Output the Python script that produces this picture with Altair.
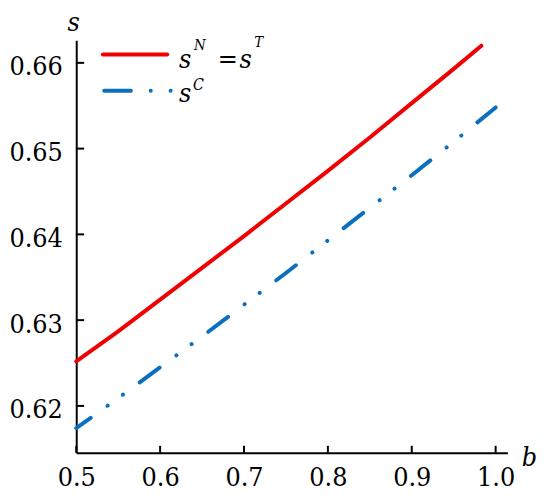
import altair as alt
import pandas as pd

# ---- data ----
b_red = [0.50, 0.55, 0.60, 0.65, 0.70, 0.75, 0.80, 0.85, 0.90, 0.95, 0.983]
s_red = [0.6252, 0.6287, 0.6324, 0.6361, 0.6398, 0.6436, 0.6474, 0.6513, 0.6553, 0.6593, 0.6620]
b_blue = [0.50, 0.55, 0.60, 0.65, 0.70, 0.75, 0.80, 0.85, 0.90, 0.95, 1.00]
s_blue = [0.6174, 0.6209, 0.6245, 0.6281, 0.6318, 0.6355, 0.6393, 0.6431, 0.6469, 0.6508, 0.6548]
x_ticks = [0.5, 0.6, 0.7, 0.8, 0.9, 1.0]
y_ticks = [0.62, 0.63, 0.64, 0.65, 0.66]
x_title = "b"
y_title = "s"
legend_red = ["s", "N", "=", "s", "T"]
legend_blue = ["s", "C"]

W, H = 436, 417
RED = "#f00000"
BLUE = "#0b6fbf"
FONT = "'DejaVu Serif Condensed', 'DejaVu Serif'"
FS = 27

xs = alt.Scale(domain=[0.5, 1.014], nice=False, zero=False)
ys = alt.Scale(domain=[0.61454, 0.66262], nice=False, zero=False)

red_df = pd.DataFrame({"b": b_red, "s": s_red})
blue_df = pd.DataFrame({"b": b_blue, "s": s_blue})

x_axis = alt.Axis(
    values=x_ticks, format=".1f", title=x_title, ticks=False, tickSize=0,
    grid=False, labelFlush=False, labelBaseline="alphabetic", labelPadding=33,
    titleX=450, titleY=13, titleAlign="left", titleBaseline="alphabetic",
    titleFontStyle="italic", titleFontWeight="normal",
)
y_axis = alt.Axis(
    values=y_ticks, format=".2f", title=y_title, ticks=False, tickSize=0,
    grid=False, labelFlush=False, labelBaseline="alphabetic", labelPadding=14,
    labelOffset=12, titleAngle=0, titleX=-3, titleY=-10, titleAlign="center",
    titleBaseline="alphabetic", titleFontStyle="italic", titleFontWeight="normal",
)

red_line = alt.Chart(red_df).mark_line(color=RED, strokeWidth=4, strokeCap="round").encode(
    x=alt.X("b:Q", scale=xs, axis=x_axis),
    y=alt.Y("s:Q", scale=ys, axis=y_axis),
)
blue_line = alt.Chart(blue_df).mark_line(
    color=BLUE, strokeWidth=4, strokeCap="round",
    strokeDash=[25, 21, 0.1, 19, 0.1, 21], strokeDashOffset=7,
).encode(
    x=alt.X("b:Q", scale=xs, axis=x_axis),
    y=alt.Y("s:Q", scale=ys, axis=y_axis),
)

xt = alt.Chart(pd.DataFrame({"b": x_ticks})).mark_rule(color="black", strokeWidth=2).encode(
    x=alt.X("b:Q", scale=xs, axis=x_axis),
    y=alt.value(H), y2=alt.value(H - 7),
)
yt = alt.Chart(pd.DataFrame({"s": y_ticks})).mark_rule(color="black", strokeWidth=2).encode(
    y=alt.Y("s:Q", scale=ys, axis=y_axis),
    x=alt.value(0), x2=alt.value(8),
)

one = pd.DataFrame({"k": [0]})
leg_red = alt.Chart(one).mark_rule(color=RED, strokeWidth=4, strokeCap="round").encode(
    x=alt.value(27), x2=alt.value(92), y=alt.value(14.3)
)
leg_blue = alt.Chart(one).mark_rule(
    color=BLUE, strokeWidth=4, strokeCap="round", strokeDash=[27, 20, 0.1, 20, 0.1, 40]
).encode(x=alt.value(28.3), x2=alt.value(96), y=alt.value(51))


def txt(s, x, y, size, italic=True):
    return alt.Chart(one).mark_text(
        text=s, font=FONT, fontSize=size, fontStyle="italic" if italic else "normal",
        align="left", baseline="alphabetic", color="black",
    ).encode(x=alt.value(x), y=alt.value(y))


texts = [
    txt(legend_red[0], 104, 28, FS),
    txt(legend_red[1], 119, 9.5, 15),
    txt(legend_red[2], 143, 28, FS, italic=False),
    txt(legend_red[3], 165, 28, FS),
    txt(legend_red[4], 180, 7, 15),
    txt(legend_blue[0], 104, 62.7, FS),
    txt(legend_blue[1], 118, 50.3, 16),
]

chart = alt.layer(red_line, blue_line, xt, yt, leg_red, leg_blue, *texts).properties(
    width=W, height=H,
    autosize=alt.AutoSizeParams(type="none"),
    padding={"left": 69, "top": 30, "right": 35, "bottom": 40},
).configure_view(strokeWidth=0).configure_axis(
    domainColor="black", domainWidth=2, labelFont=FONT, labelFontSize=FS,
    labelColor="black", titleFont=FONT, titleFontSize=FS, titleColor="black",
)

chart.save("out.html", embed_options={"renderer": "svg", "actions": False})
